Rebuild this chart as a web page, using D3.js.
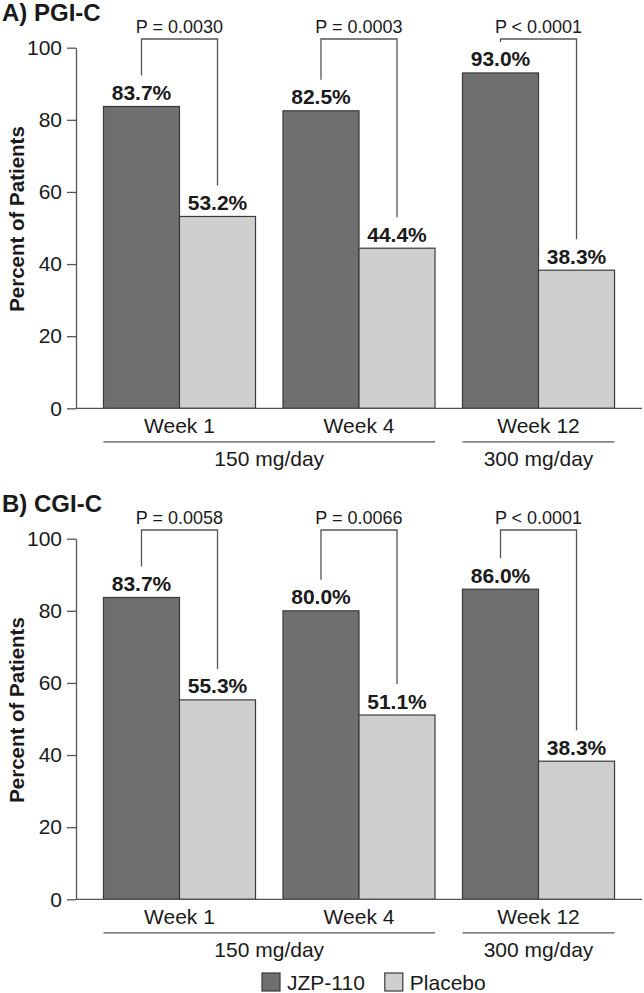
<!DOCTYPE html>
<html>
<head>
<meta charset="utf-8">
<script src="https://cdn.jsdelivr.net/npm/d3@7"></script>
<style>
  body { margin: 0; background: #fff; }
  svg { display: block; font-family: "Liberation Sans", Arial, Helvetica, sans-serif; }
</style>
</head>
<body>
<div id="chart"></div>
<script>
// data
var weeks = ["Week 1", "Week 4", "Week 12"];
var series = ["JZP-110", "Placebo"];
var doses = [
    {label: "150 mg/day", weeks: ["Week 1", "Week 4"]},
    {label: "300 mg/day", weeks: ["Week 12"]}
];
var pgicJzp = [83.7, 82.5, 93.0];
var pgicPlacebo = [53.2, 44.4, 38.3];
var pgicP = ["P = 0.0030", "P = 0.0003", "P < 0.0001"];
var cgicJzp = [83.7, 80.0, 86.0];
var cgicPlacebo = [55.3, 51.1, 38.3];
var cgicP = ["P = 0.0058", "P = 0.0066", "P < 0.0001"];
var yTicks = [0, 20, 40, 60, 80, 100];

var width = 644,
    height = 993,
    colors = {"JZP-110": "#6f6f6f", "Placebo": "#cfcfcf"},
    barStroke = "#3a3a3a",
    lineColor = "#555",
    textColor = "#1a1a1a";

var svg = d3.select("#chart").append("svg")
    .attr("width", width)
    .attr("height", height);

var x0 = d3.scaleBand()
    .domain(weeks)
    .range([76, 642])
    .paddingInner(0.153)
    .paddingOuter(0.153);

var x1 = d3.scaleBand()
    .domain(series)
    .range([0, x0.bandwidth()]);

function panel(title, jzp, placebo, pvals, oy) {
    var g = svg.append("g");
    var y = d3.scaleLinear().domain([0, 100]).range([oy + 408.3, oy + 47.7]);

    var rows = weeks.map(function(w, i) {
        return {week: w, values: [
            {key: "JZP-110", value: jzp[i]},
            {key: "Placebo", value: placebo[i]}
        ], p: pvals[i]};
    });

    g.append("text")
        .attr("x", 2)
        .attr("y", oy + 21)
        .attr("font-size", 24)
        .attr("font-weight", "bold")
        .attr("fill", textColor)
        .text(title);

    // y axis
    var yAxis = g.append("g")
        .attr("transform", "translate(76,0)")
        .call(d3.axisLeft(y).tickValues(yTicks).tickSize(9).tickSizeOuter(0).tickPadding(5));
    yAxis.select(".domain").attr("stroke", lineColor).attr("stroke-width", 1.3);
    yAxis.selectAll(".tick line").attr("stroke", lineColor).attr("stroke-width", 1.3);
    yAxis.selectAll(".tick text")
        .attr("font-size", 21)
        .attr("font-family", "Liberation Sans, Arial, sans-serif")
        .attr("fill", textColor);

    g.append("text")
        .attr("transform", "translate(24," + (oy + 219) + ") rotate(-90)")
        .attr("text-anchor", "middle")
        .attr("font-size", 20.5)
        .attr("font-weight", "bold")
        .attr("fill", textColor)
        .text("Percent of Patients");

    // bars
    var groups = g.selectAll(".grp")
        .data(rows)
        .enter().append("g")
        .attr("class", "grp")
        .attr("transform", function(d) { return "translate(" + x0(d.week) + ",0)"; });

    groups.selectAll("rect")
        .data(function(d) { return d.values; })
        .enter().append("rect")
        .attr("x", function(d) { return x1(d.key); })
        .attr("y", function(d) { return y(d.value); })
        .attr("width", x1.bandwidth())
        .attr("height", function(d) { return y(0) - y(d.value); })
        .attr("fill", function(d) { return colors[d.key]; })
        .attr("stroke", barStroke)
        .attr("stroke-width", 1.2);

    groups.selectAll(".val")
        .data(function(d) { return d.values; })
        .enter().append("text")
        .attr("class", "val")
        .attr("x", function(d) { return x1(d.key) + x1.bandwidth() / 2; })
        .attr("y", function(d) { return y(d.value) - 6.5; })
        .attr("text-anchor", "middle")
        .attr("font-size", 21)
        .attr("font-weight", "bold")
        .attr("fill", textColor)
        .text(function(d) { return d.value.toFixed(1) + "%"; });

    // significance brackets
    var top = oy + 39;
    groups.append("path")
        .attr("fill", "none")
        .attr("stroke", lineColor)
        .attr("stroke-width", 1.3)
        .attr("d", function(d) {
            var xa = x1("JZP-110") + x1.bandwidth() / 2,
                xb = x1("Placebo") + x1.bandwidth() / 2;
            return "M" + xa + "," + (y(d.values[0].value) - 31) +
                "V" + top + "H" + xb + "V" + (y(d.values[1].value) - 31);
        });

    groups.append("text")
        .attr("x", x0.bandwidth() / 2)
        .attr("y", oy + 33)
        .attr("text-anchor", "middle")
        .attr("font-size", 18)
        .attr("fill", textColor)
        .text(function(d) { return d.p; });

    // x axis baseline
    g.append("line")
        .attr("x1", 76).attr("x2", 642)
        .attr("y1", y(0)).attr("y2", y(0))
        .attr("stroke", lineColor)
        .attr("stroke-width", 1.3);

    g.selectAll(".wk")
        .data(weeks)
        .enter().append("text")
        .attr("class", "wk")
        .attr("x", function(d) { return x0(d) + x0.bandwidth() / 2; })
        .attr("y", y(0) + 25)
        .attr("text-anchor", "middle")
        .attr("font-size", 21)
        .attr("fill", textColor)
        .text(function(d) { return d; });

    var doseG = g.selectAll(".dose")
        .data(doses)
        .enter().append("g")
        .attr("class", "dose");

    doseG.append("line")
        .attr("x1", function(d) { return x0(d.weeks[0]); })
        .attr("x2", function(d) { return x0(d.weeks[d.weeks.length - 1]) + x0.bandwidth(); })
        .attr("y1", y(0) + 33.5)
        .attr("y2", y(0) + 33.5)
        .attr("stroke", lineColor)
        .attr("stroke-width", 1.3);

    doseG.append("text")
        .attr("x", function(d) {
            return (x0(d.weeks[0]) + x0(d.weeks[d.weeks.length - 1]) + x0.bandwidth()) / 2;
        })
        .attr("y", y(0) + 57.5)
        .attr("text-anchor", "middle")
        .attr("font-size", 21)
        .attr("fill", textColor)
        .text(function(d) { return d.label; });
}

panel("A) PGI-C", pgicJzp, pgicPlacebo, pgicP, 0);
panel("B) CGI-C", cgicJzp, cgicPlacebo, cgicP, 491);

// legend
var legend = svg.append("g");
var lx = 262;
series.forEach(function(s) {
    legend.append("rect")
        .attr("x", lx).attr("y", 973)
        .attr("width", 18).attr("height", 18)
        .attr("fill", colors[s])
        .attr("stroke", barStroke)
        .attr("stroke-width", 1.2);
    var t = legend.append("text")
        .attr("x", lx + 25)
        .attr("y", 990)
        .attr("font-size", 21)
        .attr("fill", textColor)
        .text(s);
    lx += 25 + t.node().getComputedTextLength() + 20;
});
</script>
</body>
</html>
